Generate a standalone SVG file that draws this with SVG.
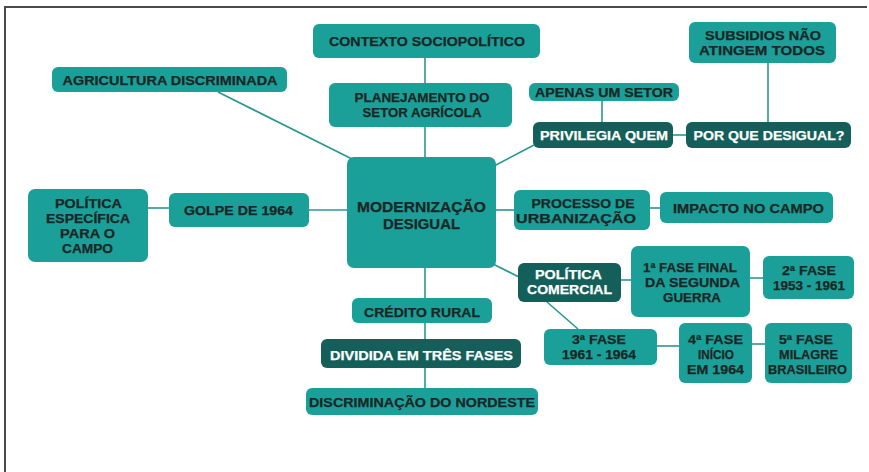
<svg xmlns="http://www.w3.org/2000/svg" width="869" height="472" viewBox="0 0 869 472">
<style>
.n{fill:#1aa098}
.d{fill:#145f59}
.t{font-family:"Liberation Sans","Open Sans",Arial,sans-serif;font-weight:700;font-size:13px;fill:#1b2626;text-anchor:middle;stroke:#1b2626;stroke-width:0.25}
.w{fill:#ffffff;stroke:#ffffff}
.big{font-size:14.5px}
.c line{stroke:#2a978f;stroke-width:1.6}
</style>
<rect x="0" y="0" width="869" height="472" fill="#ffffff"/>
<path d="M5 472 V7 H867" fill="none" stroke="#4a4a4a" stroke-width="2"/>
<g class="c" id="connectors">
<line x1="425" y1="58" x2="425" y2="83"/>
<line x1="425" y1="127" x2="425" y2="157"/>
<line x1="218" y1="92" x2="352" y2="159"/>
<line x1="494" y1="166" x2="534" y2="145"/>
<line x1="602" y1="101" x2="602" y2="122"/>
<line x1="673" y1="135" x2="686" y2="135"/>
<line x1="768" y1="63" x2="768" y2="122"/>
<line x1="148" y1="208" x2="169" y2="208"/>
<line x1="309" y1="210" x2="347" y2="210"/>
<line x1="496" y1="210" x2="514" y2="210"/>
<line x1="650" y1="208" x2="660" y2="208"/>
<line x1="493" y1="264" x2="519" y2="277"/>
<line x1="621" y1="280" x2="631" y2="280"/>
<line x1="750" y1="278" x2="763" y2="278"/>
<line x1="547" y1="302" x2="578" y2="329"/>
<line x1="657" y1="346" x2="679" y2="346"/>
<line x1="752" y1="344" x2="765" y2="344"/>
<line x1="425" y1="268" x2="425" y2="298"/>
<line x1="425" y1="323" x2="425" y2="339"/>
<line x1="425" y1="368" x2="425" y2="388"/>
</g>
<g id="contexto"><rect class="n" x="313" y="24" width="227" height="34" rx="6"/><text class="t" x="427" y="46" textLength="196" lengthAdjust="spacingAndGlyphs">CONTEXTO SOCIOPOLÍTICO</text></g>
<g id="planejamento"><rect class="n" x="329" y="83" width="183" height="44" rx="6"/><text class="t" x="422" y="101.5" textLength="135" lengthAdjust="spacingAndGlyphs">PLANEJAMENTO DO</text><text class="t" x="422" y="116.5" textLength="119" lengthAdjust="spacingAndGlyphs">SETOR AGRÍCOLA</text></g>
<g id="agricultura"><rect class="n" x="52" y="67" width="235" height="25" rx="6"/><text class="t" x="170" y="84.5" textLength="215" lengthAdjust="spacingAndGlyphs">AGRICULTURA DISCRIMINADA</text></g>
<g id="apenas"><rect class="n" x="529" y="83" width="150" height="18" rx="6"/><text class="t" x="604" y="96.5" textLength="138" lengthAdjust="spacingAndGlyphs">APENAS UM SETOR</text></g>
<g id="privilegia"><rect class="d" x="533" y="122" width="140" height="26" rx="6"/><text class="t w" x="604" y="139.5" textLength="128" lengthAdjust="spacingAndGlyphs">PRIVILEGIA QUEM</text></g>
<g id="porque"><rect class="d" x="686" y="122" width="165" height="26" rx="6"/><text class="t w" x="769" y="139.5" textLength="151" lengthAdjust="spacingAndGlyphs">POR QUE DESIGUAL?</text></g>
<g id="subsidios"><rect class="n" x="689" y="22" width="147" height="41" rx="6"/><text class="t" x="763" y="39.5" textLength="116" lengthAdjust="spacingAndGlyphs">SUBSIDIOS NÃO</text><text class="t" x="762" y="54.5" textLength="126" lengthAdjust="spacingAndGlyphs">ATINGEM TODOS</text></g>
<g id="modernizacao"><rect class="n" x="347" y="157" width="149" height="111" rx="7"/><text class="t big" x="421.5" y="212" textLength="129" lengthAdjust="spacingAndGlyphs">MODERNIZAÇÃO</text><text class="t big" x="421.5" y="229" textLength="77" lengthAdjust="spacingAndGlyphs">DESIGUAL</text></g>
<g id="golpe"><rect class="n" x="169" y="193" width="140" height="34" rx="6"/><text class="t" x="238.5" y="214.5" textLength="109" lengthAdjust="spacingAndGlyphs">GOLPE DE 1964</text></g>
<g id="politica-especifica"><rect class="n" x="28" y="189" width="120" height="73" rx="7"/><text class="t" x="88.5" y="207.5" textLength="67" lengthAdjust="spacingAndGlyphs">POLÍTICA</text><text class="t" x="88" y="222.5" textLength="84" lengthAdjust="spacingAndGlyphs">ESPECÍFICA</text><text class="t" x="87.5" y="237.5" textLength="55" lengthAdjust="spacingAndGlyphs">PARA O</text><text class="t" x="87.5" y="252.5" textLength="51" lengthAdjust="spacingAndGlyphs">CAMPO</text></g>
<g id="processo"><rect class="n" x="514" y="190" width="136" height="40" rx="6"/><text class="t" x="583" y="207.5" textLength="103" lengthAdjust="spacingAndGlyphs">PROCESSO DE</text><text class="t" x="576" y="222.5" textLength="120" lengthAdjust="spacingAndGlyphs">URBANIZAÇÃO</text></g>
<g id="impacto"><rect class="n" x="660" y="192" width="173" height="31" rx="6"/><text class="t" x="748.5" y="212.5" textLength="151" lengthAdjust="spacingAndGlyphs">IMPACTO NO CAMPO</text></g>
<g id="politica-comercial"><rect class="d" x="518" y="263" width="103" height="39" rx="6"/><text class="t w" x="568.5" y="279" textLength="67" lengthAdjust="spacingAndGlyphs">POLÍTICA</text><text class="t w" x="569.5" y="294" textLength="85" lengthAdjust="spacingAndGlyphs">COMERCIAL</text></g>
<g id="fase1"><rect class="n" x="631" y="246" width="119" height="71" rx="7"/><text class="t" x="690" y="271.5" textLength="94" lengthAdjust="spacingAndGlyphs">1ª FASE FINAL</text><text class="t" x="692.5" y="286.5" textLength="95" lengthAdjust="spacingAndGlyphs">DA SEGUNDA</text><text class="t" x="692" y="301.5" textLength="58" lengthAdjust="spacingAndGlyphs">GUERRA</text></g>
<g id="fase2"><rect class="n" x="763" y="256" width="91" height="43" rx="6"/><text class="t" x="809" y="275" textLength="54" lengthAdjust="spacingAndGlyphs">2ª FASE</text><text class="t" x="809" y="290" textLength="72" lengthAdjust="spacingAndGlyphs">1953 - 1961</text></g>
<g id="fase3"><rect class="n" x="544" y="329" width="113" height="36" rx="6"/><text class="t" x="599" y="344" textLength="54" lengthAdjust="spacingAndGlyphs">3ª FASE</text><text class="t" x="599" y="359" textLength="74" lengthAdjust="spacingAndGlyphs">1961 - 1964</text></g>
<g id="fase4"><rect class="n" x="679" y="323" width="73" height="60" rx="6"/><text class="t" x="715.5" y="343.5" textLength="55" lengthAdjust="spacingAndGlyphs">4ª FASE</text><text class="t" x="716" y="358.5" textLength="36" lengthAdjust="spacingAndGlyphs">INÍCIO</text><text class="t" x="715.5" y="373.5" textLength="57" lengthAdjust="spacingAndGlyphs">EM 1964</text></g>
<g id="fase5"><rect class="n" x="765" y="323" width="87" height="60" rx="6"/><text class="t" x="806" y="343.5" textLength="54" lengthAdjust="spacingAndGlyphs">5ª FASE</text><text class="t" x="808.5" y="358.5" textLength="59" lengthAdjust="spacingAndGlyphs">MILAGRE</text><text class="t" x="807.5" y="373.5" textLength="79" lengthAdjust="spacingAndGlyphs">BRASILEIRO</text></g>
<g id="credito"><rect class="n" x="352" y="298" width="140" height="25" rx="6"/><text class="t" x="422" y="316.5" textLength="116" lengthAdjust="spacingAndGlyphs">CRÉDITO RURAL</text></g>
<g id="dividida"><rect class="d" x="321" y="339" width="200" height="29" rx="6"/><text class="t w" x="421.5" y="359.5" textLength="183" lengthAdjust="spacingAndGlyphs">DIVIDIDA EM TRÊS FASES</text></g>
<g id="discriminacao"><rect class="n" x="306" y="388" width="232" height="27" rx="6"/><text class="t" x="422" y="406.5" textLength="226" lengthAdjust="spacingAndGlyphs">DISCRIMINAÇÃO DO NORDESTE</text></g>
</svg>
